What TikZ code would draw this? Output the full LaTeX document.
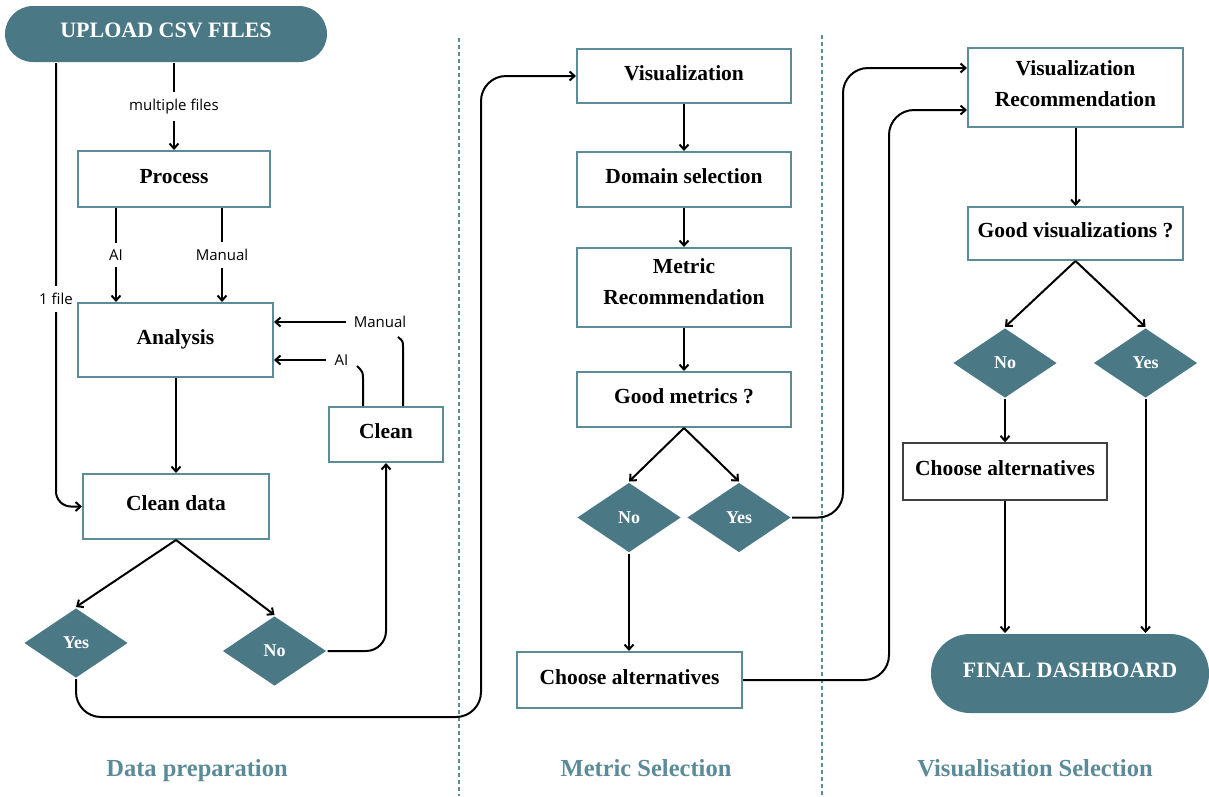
\documentclass[tikz,border=0pt]{standalone}
\usepackage{fontspec}
\setmainfont{Liberation Serif}
\newfontfamily\lblfont{Open Sans}
\usetikzlibrary{shapes.geometric,arrows.meta}
\definecolor{tealf}{HTML}{4A7885}
\definecolor{tealb}{HTML}{5B8D99}
\definecolor{tealt}{HTML}{5A8B97}
\begin{document}
\begin{tikzpicture}[x=1pt,y=-1pt,line width=2pt,
  box/.style={draw=tealb,line width=2pt,fill=white,align=center,inner sep=0pt,
    font=\bfseries\fontsize{21.5}{31}\selectfont,text height=14pt,text depth=6pt},
  box2/.style={draw=tealb,line width=2pt,fill=white,align=center,inner sep=0pt,
    font=\bfseries\fontsize{21.5}{31}\selectfont,text depth=6pt},
  pill/.style={fill=tealf,text=white,rounded corners=28pt,inner sep=0pt,
    font=\bfseries\fontsize{22}{26}\selectfont,text height=14pt,text depth=6.5pt},
  dia/.style={diamond,fill=tealf,text=white,inner sep=0pt,minimum width=104pt,minimum height=70pt,
    font=\bfseries\fontsize{18}{20}\selectfont},
  arr/.style={-{Straight Barb[length=5pt,width=9pt]},line width=2pt},
  lbl/.style={font=\lblfont\fontsize{15}{17}\selectfont,inner xsep=2pt,inner ysep=7pt,fill=white},
  sect/.style={text=tealt,anchor=base,font=\bfseries\fontsize{24.5}{28}\selectfont},
  divider/.style={draw=tealb,line width=1.5pt,dash pattern=on 4pt off 3pt}]
\useasboundingbox (0,0) rectangle (1209,796);

% dividers
\draw[divider] (459,38) -- (459,796);
\draw[divider] (822,35) -- (822,796);

% Data preparation column
\node[pill,minimum width=322pt,minimum height=56pt] (upload) at (166,34) {UPLOAD CSV FILES};
\node[box,minimum width=192pt,minimum height=56pt] (process) at (174,179) {Process};
\node[box,minimum width=195pt,minimum height=74pt] (analysis) at (175.5,340) {Analysis};
\node[box,minimum width=186pt,minimum height=65pt] (cleandata) at (176,506.5) {Clean data};
\node[box,minimum width=114pt,minimum height=55pt] (clean) at (386,434.5) {Clean};
\node[dia] (yes1) at (76,643) {Yes};
\node[dia] (no1) at (274.5,651) {No};
\node[sect] (t1) at (197,776) {Data preparation};

% Metric selection column
\node[box,minimum width=214pt,minimum height=54pt] (vis) at (684,76) {Visualization};
\node[box,minimum width=214pt,minimum height=55pt] (domain) at (684,179.5) {Domain selection};
\node[box2,text height=40pt,minimum width=214pt,minimum height=79pt] (metric) at (684,287.5) {Metric\\Recommendation};
\node[box,minimum width=214pt,minimum height=55pt] (goodm) at (684,399.5) {Good metrics ?};
\node[dia] (no2) at (629,517.5) {No};
\node[dia] (yes2) at (739,517.5) {Yes};
\node[box,minimum width=225pt,minimum height=56pt] (choose1) at (629.5,680) {Choose alternatives};
\node[sect] (t2) at (646,776) {Metric Selection};

% Visualisation selection column
\node[box2,text height=44pt,minimum width=215pt,minimum height=79pt] (visrec) at (1075.5,87.5) {Visualization\\Recommendation};
\node[box,minimum width=215pt,minimum height=53pt] (goodv) at (1075.5,233.5) {Good visualizations ?};
\node[dia] (no3) at (1005,363) {No};
\node[dia] (yes3) at (1145.5,363) {Yes};
\node[box,draw=black!75,line width=1.4pt,minimum width=204pt,minimum height=57pt] (choose2) at (1005,471.5) {Choose alternatives};
\node[pill,minimum width=278pt,minimum height=79pt,rounded corners=39pt] (final) at (1070,673.5) {FINAL DASHBOARD};
\node[sect] (t3) at (1035,776) {Visualisation Selection};

% connectors: data preparation
\draw[arr] (process.north |- upload.south) -- node[lbl]{multiple files} (process.north);
\draw[arr,rounded corners=15pt] ([xshift=-110pt]upload.south) |- node[lbl,pos=0.266]{1 file} (cleandata.west);
\draw[arr] ([xshift=-58pt]process.south) -- node[lbl]{AI} ([xshift=-58pt]process.south |- analysis.north);
\draw[arr] ([xshift=48pt]process.south) -- node[lbl]{Manual} ([xshift=48pt]process.south |- analysis.north);
\draw[arr] (analysis.south -| cleandata.north) -- (cleandata.north);
\draw[arr] (cleandata.south) -- (yes1.north);
\draw[arr] (cleandata.south) -- (no1.north);
\draw[arr,rounded corners=20pt] (no1.east) -| (clean.south);

\node[lbl,inner sep=1pt,fill=none] (ailbl) at (341.5,360) {AI};
\node[lbl,inner sep=1pt,fill=none] (manlbl) at (380,322) {Manual};
\coordinate (c1) at ([xshift=-23pt]clean.north);
\coordinate (c2) at ([xshift=17pt]clean.north);
\draw (c1) -- (363,380) .. controls (363,372) .. (357,366);
\draw (c2) -- (403,348) .. controls (403,341) .. (398,337);
\draw[arr] ([xshift=-7pt]ailbl.west) -- (analysis.east |- ailbl.west);
\draw[arr] ([xshift=-6pt]manlbl.west) -- (analysis.east |- manlbl.west);

% connectors: metric selection
\coordinate (r1) at (481,717);
\draw[arr,rounded corners=25pt] (yes1.south) |- (r1) |- (vis.west);
\draw[arr] (vis.south) -- (domain.north);
\draw[arr] (domain.south) -- (metric.north);
\draw[arr] (metric.south) -- (goodm.north);
\draw[arr] (goodm.south) -- (no2.north);
\draw[arr] (goodm.south) -- (yes2.north);
\draw[arr] (no2.south) -- (no2.south |- choose1.north);

% connectors: visualisation selection
\coordinate (r2) at (843,68);
\coordinate (r3) at (889,110);
\draw[arr,rounded corners=25pt] (yes2.east) -| (r2) -- (r2 -| visrec.west);
\draw[arr,rounded corners=25pt] (choose1.east) -| (r3) -- (r3 -| visrec.west);
\draw[arr] (visrec.south) -- (goodv.north);
\draw[arr] (goodv.south) -- (no3.north);
\draw[arr] (goodv.south) -- (yes3.north);
\draw[arr] (no3.south) -- (choose2.north);
\draw[arr] (choose2.south) -- (choose2.south |- final.north);
\draw[arr] (yes3.south) -- (yes3.south |- final.north);
\end{tikzpicture}
\end{document}
